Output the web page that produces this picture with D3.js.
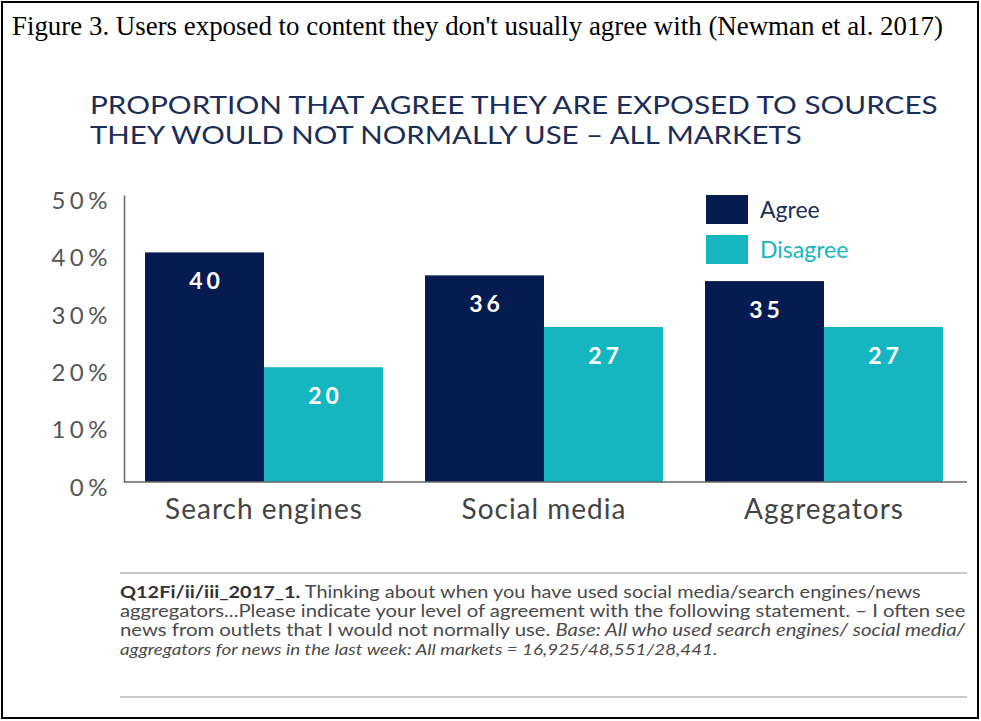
<!DOCTYPE html>
<html>
<head>
<meta charset="utf-8">
<script src="https://cdn.jsdelivr.net/npm/d3@7"></script>
<style>
  html, body { margin: 0; padding: 0; background: #fff; }
  svg { display: block; }
</style>
</head>
<body>
<svg id="chart" width="981" height="721"></svg>
<script>
const categories = ["Search engines", "Social media", "Aggregators"];
const seriesNames = ["Agree", "Disagree"];
const agreeValues = [40, 36, 35];
const disagreeValues = [20, 27, 27];
const yTicks = [0, 10, 20, 30, 40, 50];
const caption = "Figure 3. Users exposed to content they don't usually agree with (Newman et al. 2017)";
const titleLines = ["PROPORTION THAT AGREE THEY ARE EXPOSED TO SOURCES", "THEY WOULD NOT NORMALLY USE \u2013 ALL MARKETS"];
const titleWidths = [848, 712];
const footnoteLines = [
  [{t: "Q12Fi/ii/iii_2017_1.", s: "b"}, {t: " Thinking about when you have used social media/search engines/news", s: "n"}],
  [{t: "aggregators...Please indicate your level of agreement with the following statement. \u2013 I often see", s: "n"}],
  [{t: "news from outlets that I would not normally use. ", s: "n"}, {t: "Base: All who used search engines/ social media/", s: "i"}],
  [{t: "aggregators for news in the last week: All markets = 16,925/48,551/28,441.", s: "i"}]
];
const footnoteWidths = [800, 845, 845, 597];

const colors = {Agree: "#061b50", Disagree: "#15b6bf"};
const svg = d3.select("#chart");

// outer border
svg.append("rect").attr("x", 2).attr("y", 2).attr("width", 976).attr("height", 716)
  .attr("fill", "#fff").attr("stroke", "#000").attr("stroke-width", 2);

// caption
svg.append("text").attr("x", 12).attr("y", 35)
  .attr("font-family", "'Liberation Serif', 'Times New Roman', serif")
  .attr("font-size", 26.9).attr("fill", "#000").text(caption);

// title (stretched horizontally to the reference width)
svg.append("g").selectAll("text").data(titleLines).join("text")
  .attr("font-family", "Lato, sans-serif").attr("font-size", 24.8)
  .attr("fill", "#1c2d57").text(d => d)
  .each(function(d, i) {
    const sx = titleWidths[i] / this.getComputedTextLength();
    d3.select(this).attr("transform", `translate(90,${114 + i * 30}) scale(${sx},1)`);
  });

// scales
const x0 = d3.scaleBand().domain(categories).range([124, 964]).paddingInner(0.15).paddingOuter(0.075);
const x1 = d3.scaleBand().domain(seriesNames).range([0, x0.bandwidth()]).padding(0);
const y = d3.scaleLinear().domain([0, 50]).range([482, 195]);

const rows = categories.map((c, i) => ({cat: c, values: [
  {key: "Agree", v: agreeValues[i]}, {key: "Disagree", v: disagreeValues[i]}
]}));

// bars
const groups = svg.append("g").selectAll("g").data(rows).join("g")
  .attr("transform", d => `translate(${x0(d.cat)},0)`);
groups.selectAll("rect").data(d => d.values).join("rect")
  .attr("x", d => x1(d.key)).attr("width", x1.bandwidth())
  .attr("y", d => y(d.v)).attr("height", d => y(0) - y(d.v))
  .attr("fill", d => colors[d.key]);
groups.selectAll("text").data(d => d.values).join("text")
  .attr("x", d => x1(d.key) + x1.bandwidth() / 2 + 2)
  .attr("y", d => y(d.v) + 37)
  .attr("text-anchor", "middle")
  .attr("font-family", "Lato, sans-serif").attr("font-weight", 700).attr("font-size", 23)
  .attr("letter-spacing", 4)
  .attr("fill", "#fff").text(d => d.v);

// y axis
const yAxis = svg.append("g").attr("transform", "translate(124,0)")
  .call(d3.axisLeft(y).tickValues(yTicks).tickSize(0).tickSizeOuter(0).tickPadding(12).tickFormat(d => d + "%"));
yAxis.select(".domain").attr("stroke", "#666").attr("stroke-width", 1.5);
yAxis.selectAll("text").attr("font-family", "Lato, sans-serif").attr("font-size", 24)
  .attr("fill", "#555").attr("dy", "0.55em").attr("letter-spacing", 4.5);

// x axis
const xAxis = svg.append("g").attr("transform", "translate(0,482)")
  .call(d3.axisBottom(x0).tickSize(0).tickSizeOuter(0).tickPadding(17));
xAxis.select(".domain").attr("stroke", "#666").attr("stroke-width", 1.5)
  .attr("d", "M124,0H967");
xAxis.selectAll("text").attr("font-family", "Lato, sans-serif").attr("font-size", 28)
  .attr("letter-spacing", 1).attr("fill", "#444");

// legend
const legend = svg.append("g").selectAll("g").data(seriesNames).join("g")
  .attr("transform", (d, i) => `translate(706,${195 + i * 40})`);
legend.append("rect").attr("width", 42).attr("height", 29).attr("fill", d => colors[d]);
legend.append("text").attr("x", 54).attr("y", 15).attr("dy", "0.35em")
  .attr("font-family", "Lato, sans-serif").attr("font-size", 23)
  .attr("fill", d => d === "Agree" ? "#1c2d57" : "#15b6bf").text(d => d);

// footnote rules
svg.append("line").attr("x1", 120).attr("x2", 967).attr("y1", 573).attr("y2", 573)
  .attr("stroke", "#c8c8c8").attr("stroke-width", 2);
svg.append("line").attr("x1", 120).attr("x2", 967).attr("y1", 697).attr("y2", 697)
  .attr("stroke", "#c8c8c8").attr("stroke-width", 2);

// footnote (each line stretched horizontally to the reference width)
const fn = svg.append("g").selectAll("text").data(footnoteLines).join("text")
  .attr("font-family", "Lato, sans-serif").attr("font-size", 16.3).attr("fill", "#4a4a4a");
fn.selectAll("tspan").data(d => d).join("tspan")
  .attr("font-weight", d => d.s === "b" ? 700 : 400)
  .attr("font-style", d => d.s === "i" ? "italic" : "normal")
  .attr("fill", d => d.s === "b" ? "#333" : "#4a4a4a")
  .text(d => d.t);
fn.each(function(d, i) {
  const w = this.getComputedTextLength();
  const sx = footnoteWidths[i] / w;
  d3.select(this).attr("transform", `translate(120,${598 + i * 19}) scale(${sx},1)`);
});
</script>
</body>
</html>
